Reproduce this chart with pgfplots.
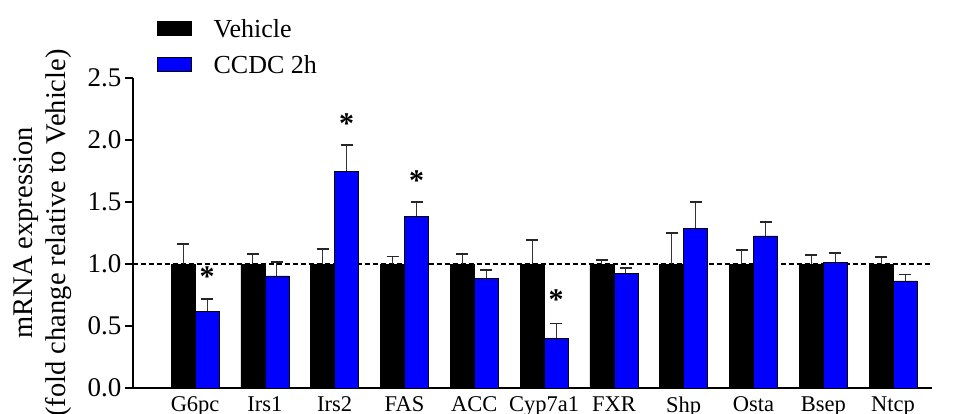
\documentclass[border=0pt]{standalone}
\usepackage{fontspec}
\setmainfont{Liberation Serif}
\usepackage{pgfplots}
\pgfplotsset{compat=1.18}
\usepackage{pgfplotstable}
\definecolor{ccblue}{RGB}{0,0,255}

\pgfplotstableread{
idx V Verr C Cerr
0 1 0.16 0.62 0.10
1 1 0.08 0.905 0.11
2 1 0.12 1.747 0.213
3 1 0.06 1.384 0.116
4 1 0.08 0.887 0.063
5 1 0.196 0.403 0.117
6 1 0.035 0.924 0.046
7 1 0.247 1.287 0.213
8 1 0.115 1.226 0.115
9 1 0.07 1.013 0.076
10 1 0.056 0.863 0.053
}\datatable

\pgfplotstableread{
x y
0.172 0.82
2.172 2.05
3.172 1.59
5.172 0.635
}\startable

\begin{document}
\begin{tikzpicture}
\useasboundingbox (-133bp,-26bp) rectangle (824bp,388bp);
\begin{axis}[
  at={(0,0)}, anchor=south west,
  scale only axis, width=798.5bp, height=310bp,
  xmin=-0.89, xmax=10.55, ymin=0, ymax=2.5,
  axis lines*=left,
  axis line style={-, line width=1.8bp, black},
  xtick={0,...,10},
  xticklabels={G6pc,Irs1,Irs2,FAS,ACC,Cyp7a1,FXR,Shp,Osta,Bsep,Ntcp},
  x tick style={draw=none},
  xticklabel style={font=\fontsize{22.5bp}{25bp}\selectfont, yshift=3bp},
  ytick={0,0.5,...,2.5},
  y tick style={line width=1.8bp, black},
  tick align=outside, major tick length=8bp,
  yticklabel style={font=\fontsize{27bp}{30bp}\selectfont, /pgf/number format/.cd, fixed, fixed zerofill, precision=1, assume math mode=true},
  ylabel={mRNA expression\\(fold change relative to Vehicle)},
  ylabel style={align=center, font=\fontsize{28.5bp}{33bp}\selectfont, at={(axis description cs:-0.0764,0.5)}, anchor=south, inner sep=0pt},
  legend style={at={(axis description cs:0.030,1.197)}, anchor=north west, draw=none, fill=none, inner sep=0pt, font=\fontsize{26bp}{30bp}\selectfont, legend cell align=left, row sep=13bp},
  clip=false,
]
\draw[black, line width=1.2bp, dash pattern=on 5bp off 3bp] (axis cs:-0.89,1) -- (axis cs:10.55,1);

\addplot[ybar, bar width=0.344, bar shift=0pt, fill=black, draw=black, line width=0.5bp, forget plot,
  error bars/.cd, y dir=plus, y explicit,
  error bar style={line width=1bp, black!80},
  error mark options={rotate=90, line width=1.8bp, mark size=6bp, black!85}]
  table[x expr=\thisrow{idx}-0.172, y=V, y error=Verr] {\datatable};

\addplot[ybar, bar width=0.344, bar shift=0pt, fill=ccblue, draw=black, line width=0.5bp, forget plot,
  error bars/.cd, y dir=plus, y explicit,
  error bar style={line width=1bp, black!80},
  error mark options={rotate=90, line width=1.8bp, mark size=6bp, black!85}]
  table[x expr=\thisrow{idx}+0.172, y=C, y error=Cerr] {\datatable};

\addplot[only marks, mark=none, forget plot, nodes near coords={\bfseries *}, nodes near coords style={anchor=base, inner sep=0pt, font=\fontsize{30bp}{36bp}\selectfont}, point meta=explicit symbolic]
  table[x=x, y=y, meta expr={0}] {\startable};

\addlegendimage{legend image code/.code={\draw[fill=black, draw=black, line width=0.5bp] (0bp,-6bp) rectangle (34bp,8bp); \path (54bp,0bp);}}
\addlegendentry{Vehicle}
\addlegendimage{legend image code/.code={\draw[fill=ccblue, draw=black, line width=0.5bp] (0bp,-6bp) rectangle (34bp,8bp); \path (54bp,0bp);}}
\addlegendentry{CCDC 2h}
\end{axis}
\end{tikzpicture}
\end{document}
